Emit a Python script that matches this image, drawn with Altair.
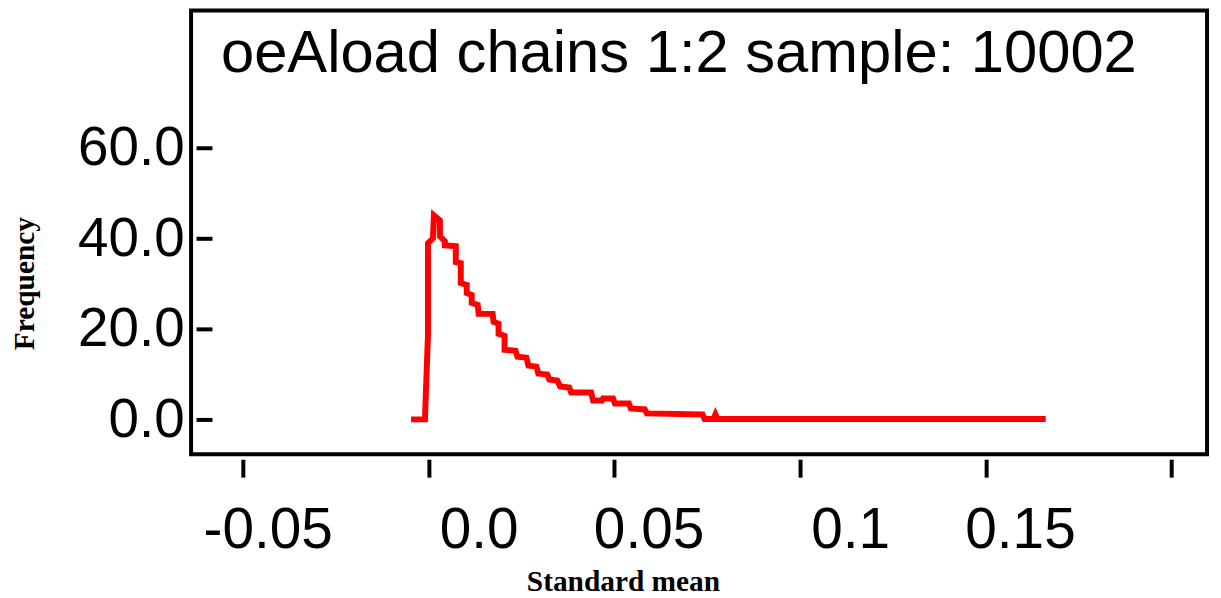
import altair as alt
import pandas as pd

# Data (step-like frequency curve)
x_vals = [-0.00388, -0.00094, -0.00013, -0.00013, 0.00121, 0.00147, 0.00308, 0.00308,
          0.00442, 0.00442, 0.00736, 0.00736, 0.00870, 0.00870, 0.01031, 0.01031,
          0.01165, 0.01165, 0.01326, 0.01352, 0.01727, 0.01754, 0.01888, 0.01888,
          0.02049, 0.02049, 0.02343, 0.02397, 0.02638, 0.02691, 0.02906, 0.02959,
          0.03200, 0.03254, 0.03468, 0.03548, 0.03790, 0.03843, 0.04379, 0.04432,
          0.04673, 0.04700, 0.04968, 0.05021, 0.05396, 0.05450, 0.05825, 0.05878,
          0.07378, 0.07432, 0.07673, 0.07726, 0.07780, 0.16537]
y_vals = [0.0, 0.0, 18.68, 38.90, 40.0, 45.05, 43.96, 40.44,
          39.34, 38.46, 38.24, 34.73, 34.51, 30.11, 29.67, 27.91,
          27.47, 25.71, 25.27, 23.30, 23.30, 21.54, 21.10, 18.90,
          18.46, 15.38, 15.16, 13.85, 13.63, 11.87, 11.65, 10.11,
          9.89, 8.79, 8.57, 7.25, 7.03, 5.93, 5.93, 4.18,
          4.18, 4.62, 4.62, 3.52, 3.52, 2.42, 2.20, 1.32,
          1.10, 0.10, 0.10, 1.10, 0.10, 0.10]
x_ticks = [-0.05, 0.0, 0.05, 0.1, 0.15, 0.2]
y_ticks = [0, 20, 40, 60]
title_text = "oeAload chains 1:2 sample: 10002"
x_title = "Standard mean"
y_title = "Frequency"

df = pd.DataFrame({"x": x_vals, "y": y_vals, "i": list(range(len(x_vals)))})

x_scale = alt.Scale(domain=[-0.0639, 0.2096], nice=False, zero=False)
y_scale = alt.Scale(domain=[-7.7, 90.3], nice=False, zero=False)

x_axis = alt.Axis(
    values=x_ticks,
    labelExpr="datum.value == 0 ? '0.0' : (datum.value > 0.19 ? '' : toString(round(datum.value * 100) / 100))",
    domain=False, grid=False, offset=5, tickSize=18, tickWidth=4, tickColor="black",
    labelFont="Liberation Sans", labelFontSize=57, labelColor="black", labelPadding=26,
    labelAlign="right", labelOffset=90,
    labelFlush=False, labelOverlap=False,
    title=x_title, titleFont="Liberation Serif", titleFontWeight="bold", titleFontSize=29.5,
    titleColor="black", titlePadding=9, titleX=434,
)
y_axis = alt.Axis(
    values=y_ticks,
    labelExpr="format(datum.value, '.1f')",
    domain=False, grid=False, offset=-21, tickSize=16, tickWidth=4, tickColor="black",
    labelFont="Liberation Sans", labelFontSize=55, labelColor="black", labelPadding=12,
    labelFlush=False, labelOverlap=False,
    title=y_title, titleFont="Liberation Serif", titleFontWeight="bold", titleFontSize=29.5,
    titleColor="black", titlePadding=38, titleY=274,
)

line = alt.Chart(df).mark_line(color="#ff0000", strokeWidth=6, strokeCap="square").encode(
    x=alt.X("x:Q", scale=x_scale, axis=x_axis),
    y=alt.Y("y:Q", scale=y_scale, axis=y_axis),
    order="i:Q",
)

title = alt.Chart(pd.DataFrame({"t": [title_text]})).mark_text(
    align="left", baseline="alphabetic", fontSize=60, font="Liberation Sans", color="black"
).encode(x=alt.value(30), y=alt.value(62), text="t:N")

chart = alt.layer(line, title).properties(
    width=1021, height=446,
    autosize=alt.AutoSizeParams(type="none"),
    padding={"left": 184, "top": 1, "right": 6, "bottom": 142},
).configure_view(stroke="black", strokeWidth=4)

chart.save("out.html", embed_options={"renderer": "svg", "actions": False})
